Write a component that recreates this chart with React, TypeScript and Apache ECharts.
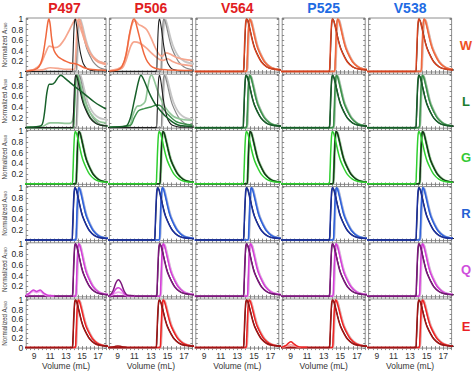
import React, { useEffect, useRef } from 'react';
import * as echarts from 'echarts';

// ---------------- data ----------------
const COLUMNS = ['P497', 'P506', 'V564', 'P525', 'V538'];
const ROWS = ['W', 'L', 'G', 'R', 'Q', 'E'];
const X_TICK_LABELS = [9, 11, 13, 15, 17];
const Y_TICK_LABELS = [0, 0.2, 0.4, 0.6, 0.8, 1];

// onset volume (mL) of the early and late elution groups, rows W..E, columns P497..V538
const EARLY_ONSET = [
  [13.75, 13.65, 13.7, 13.65, 13.65],
  [13.8, 13.65, 13.65, 13.65, 13.65],
  [13.75, 13.6, 13.7, 13.65, 13.65],
  [13.7, 13.4, 13.7, 13.65, 13.65],
  [13.75, 13.65, 13.7, 13.65, 13.65],
  [13.75, 13.6, 13.7, 13.65, 13.65],
];
const LATE_ONSET = [
  [14.2, 14.15, 14.1, 14.3, 14.3],
  [14.2, 14.2, 14.1, 14.15, 14.1],
  [14.2, 14.05, 14.15, 14.1, 14.1],
  [14.2, 14.0, 14.3, 14.15, 14.15],
  [14.2, 14.1, 14.2, 14.1, 14.1],
  [14.15, 14.1, 14.05, 14.05, 14.1],
];

// elution profiles: volume after onset (mL) -> normalized A280
const PROFILE_DX = [-7, 0, 0.1, 0.2, 0.3, 0.4, 0.5, 0.6, 0.8, 1.0, 1.2, 1.4, 1.8, 2.2, 2.8, 3.4, 4.4, 7];
const PEAK_Y = [0.01, 0.01, 0.2, 0.62, 0.92, 1.0, 0.98, 0.94, 0.81, 0.67, 0.54, 0.44, 0.3, 0.19, 0.1, 0.06, 0.04, 0.03];
const FAST_Y = [0.01, 0.01, 0.25, 0.7, 0.95, 1.0, 0.94, 0.84, 0.6, 0.4, 0.26, 0.16, 0.07, 0.04, 0.02, 0.02, 0.02, 0.02];
const BROAD_Y = [0.01, 0.01, 0.2, 0.55, 0.85, 0.98, 1.0, 0.96, 0.85, 0.72, 0.6, 0.5, 0.36, 0.27, 0.2, 0.17, 0.15, 0.14];

// special traces, [volume, normalized A280]
const P497_W_ORANGE = [[8, 0.02], [9, 0.04], [9.6, 0.1], [10, 0.25], [10.4, 0.6], [10.7, 0.93], [10.85, 1.0], [11.0, 0.9], [11.2, 0.62], [11.5, 0.4], [12, 0.29], [12.5, 0.24], [13, 0.2], [13.5, 0.17], [14, 0.16], [14.5, 0.14], [15, 0.1], [15.5, 0.07], [16, 0.05], [17, 0.04], [18, 0.03]];
const P497_W_SALMON = [[8, 0.02], [9, 0.05], [9.8, 0.15], [10.4, 0.35], [10.9, 0.49], [11.2, 0.48], [11.6, 0.46], [12.2, 0.5], [12.8, 0.62], [13.3, 0.76], [13.8, 0.91], [14.2, 1.0], [14.6, 0.92], [15, 0.74], [15.5, 0.52], [16, 0.36], [16.5, 0.27], [17, 0.21], [17.5, 0.18], [18, 0.16]];
const P497_W_PALE = [[8, 0.02], [10, 0.04], [11, 0.08], [12, 0.07], [13, 0.05], [14, 0.05], [14.2, 0.3], [14.35, 0.75], [14.5, 0.95], [14.65, 1.0], [14.9, 0.9], [15.3, 0.65], [15.8, 0.42], [16.4, 0.27], [17, 0.19], [18, 0.14]];
const P506_W_ORANGE = [[8, 0.02], [9, 0.04], [9.5, 0.1], [10, 0.32], [10.4, 0.7], [10.8, 0.97], [11.0, 1.0], [11.3, 0.86], [11.8, 0.55], [12.2, 0.33], [12.6, 0.19], [13.2, 0.09], [14, 0.05], [15, 0.04], [18, 0.03]];
const P506_W_SALMON = [[8, 0.02], [9.5, 0.1], [10, 0.33], [10.5, 0.75], [10.8, 0.93], [11.1, 0.97], [11.5, 0.9], [12, 0.86], [12.5, 0.8], [13, 0.65], [13.5, 0.47], [14, 0.33], [14.4, 0.3], [14.8, 0.36], [15.3, 0.34], [16, 0.28], [17, 0.24], [18, 0.22]];
const P506_W_PALE = [[8, 0.02], [9.5, 0.07], [10, 0.22], [10.6, 0.5], [11, 0.57], [11.6, 0.55], [12.4, 0.46], [13.2, 0.34], [14, 0.24], [14.5, 0.22], [15, 0.25], [15.6, 0.2], [16.5, 0.15], [18, 0.12]];
const P497_L_DARK = [[8, 0.02], [9.5, 0.03], [10, 0.07], [10.3, 0.3], [10.6, 0.68], [10.9, 0.83], [11.2, 0.83], [11.6, 0.87], [12.0, 0.96], [12.35, 1.0], [12.8, 0.95], [13.5, 0.86], [14.5, 0.74], [15.5, 0.62], [16.5, 0.5], [17.3, 0.42], [18, 0.36]];
const P497_L_LIGHT = [[8, 0.02], [10, 0.03], [10.6, 0.08], [11, 0.1], [12, 0.1], [13, 0.09], [13.6, 0.1], [13.9, 0.2], [14.1, 0.6], [14.3, 0.95], [14.45, 1.0], [14.7, 0.9], [15.2, 0.6], [15.8, 0.35], [16.5, 0.2], [17.2, 0.12], [18, 0.1]];
const P506_L_DARK = [[8, 0.02], [10, 0.04], [10.5, 0.18], [11, 0.52], [11.5, 0.88], [11.8, 1.0], [12.1, 0.93], [12.5, 0.78], [13, 0.6], [13.5, 0.46], [14, 0.36], [14.8, 0.22], [15.5, 0.13], [16, 0.08], [16.5, 0.05], [18, 0.03]];
const P506_L_LIGHT = [[8, 0.02], [10.4, 0.05], [10.8, 0.24], [11.3, 0.41], [11.8, 0.43], [12.3, 0.5], [12.6, 0.75], [12.9, 0.97], [13.1, 1.0], [13.4, 0.9], [14, 0.62], [14.8, 0.38], [15.5, 0.25], [16, 0.2], [17, 0.16], [18, 0.15]];
const P506_L_MID = [[8, 0.02], [10.5, 0.05], [11, 0.2], [11.5, 0.33], [12.2, 0.37], [13, 0.4], [13.7, 0.44], [14.2, 0.42], [15, 0.27], [16, 0.13], [17, 0.08], [18, 0.06]];
const P497_Q_PURPLE = [[8, 0.03], [8.4, 0.07], [8.9, 0.13], [9.3, 0.1], [9.75, 0.13], [10.2, 0.07], [10.7, 0.03], [11.5, 0.02]];
const P497_Q_PINK = [[8, 0.03], [8.4, 0.06], [8.9, 0.1], [9.3, 0.08], [9.75, 0.1], [10.2, 0.05], [10.7, 0.02], [11.5, 0.02]];
const P506_Q_PURPLE = [[8, 0.02], [8.4, 0.1], [8.8, 0.27], [9.1, 0.32], [9.4, 0.26], [9.8, 0.1], [10.2, 0.03], [11, 0.02]];
const P506_Q_MAGENTA = [[8, 0.02], [8.4, 0.06], [8.8, 0.15], [9.1, 0.17], [9.4, 0.14], [9.8, 0.06], [10.2, 0.02], [11, 0.02]];
const P506_Q_PINK = [[8, 0.02], [8.5, 0.05], [9.1, 0.09], [9.6, 0.06], [10.2, 0.02], [11, 0.02]];
const P525_E_RED = [[8, 0.02], [8.4, 0.05], [8.8, 0.11], [9.05, 0.13], [9.4, 0.09], [9.8, 0.04], [10.3, 0.02], [11, 0.02]];
const P525_E_LIGHT = [[8, 0.02], [8.5, 0.04], [9.05, 0.07], [9.6, 0.04], [10.2, 0.02], [11, 0.02]];
const P506_E_DARK = [[8, 0.02], [8.6, 0.03], [9.0, 0.045], [9.5, 0.03], [10, 0.02]];

// ---------------- styles ----------------
const FONT = 'Liberation Sans, Arial, Helvetica, sans-serif';
const TITLE_COLORS = ['#e11d1f', '#e11d1f', '#e11d1f', '#1e6be3', '#1e6be3'];
const ROW_LABEL_COLORS = ['#ef5124', '#1b7d2c', '#34c934', '#2560d4', '#cf4fdc', '#ea1f26'];
const ROW_TONES = [
  ['#d8421e', '#f0683e', '#f6a68e'],
  ['#17602a', '#3c904b', '#93c79a'],
  ['#169f20', '#2fcf2f', '#8de28d'],
  ['#1b2f9e', '#2f60d8', '#8faaef'],
  ['#7c167c', '#d23fd6', '#f1a8f1'],
  ['#a31414', '#ee2424', '#f5a3a3'],
];
const NEUTRAL = { black: '#1f1f1f', gray: '#8a8a8a', lightgray: '#c6c6c6' };

const G = { left: 23, top: 18, colStep: 86.4, rowStep: 56.2, w: 83, h: 54 };

type Trace = { pts: number[][]; tone: string };

function profile(ys: number[], onset: number): number[][] {
  return PROFILE_DX.map((dx, i) => [onset + dx, ys[i]]);
}

function panelTraces(r: number, c: number): Trace[] {
  const e = EARLY_ONSET[r][c];
  const l = LATE_ONSET[r][c];
  const key = ROWS[r] + COLUMNS[c];
  if (key === 'WP497') {
    return [
      { pts: profile(BROAD_Y, l + 0.1), tone: 'lightgray' },
      { pts: profile(PEAK_Y, l), tone: 'gray' },
      { pts: P497_W_PALE, tone: 'light' },
      { pts: P497_W_SALMON, tone: 'light' },
      { pts: profile(FAST_Y, e), tone: 'black' },
      { pts: P497_W_ORANGE, tone: 'mid' },
    ];
  }
  if (key === 'WP506') {
    return [
      { pts: profile(BROAD_Y, l + 0.1), tone: 'lightgray' },
      { pts: profile(PEAK_Y, l), tone: 'gray' },
      { pts: P506_W_PALE, tone: 'light' },
      { pts: P506_W_SALMON, tone: 'light' },
      { pts: profile(FAST_Y, e), tone: 'black' },
      { pts: P506_W_ORANGE, tone: 'mid' },
    ];
  }
  if (key === 'LP497') {
    return [
      { pts: profile(BROAD_Y, l + 0.1), tone: 'lightgray' },
      { pts: profile(PEAK_Y, l), tone: 'gray' },
      { pts: P497_L_LIGHT, tone: 'light' },
      { pts: profile(PEAK_Y, e + 0.1), tone: 'mid' },
      { pts: profile(PEAK_Y, e), tone: 'black' },
      { pts: P497_L_DARK, tone: 'dark' },
    ];
  }
  if (key === 'LP506') {
    return [
      { pts: profile(BROAD_Y, l + 0.1), tone: 'lightgray' },
      { pts: profile(PEAK_Y, l), tone: 'gray' },
      { pts: P506_L_LIGHT, tone: 'light' },
      { pts: P506_L_MID, tone: 'mid' },
      { pts: profile(FAST_Y, e), tone: 'black' },
      { pts: P506_L_DARK, tone: 'dark' },
    ];
  }
  const earlyTone = r === 2 ? 'mid' : 'dark';
  const lateTone = r === 2 ? 'dark' : 'mid';
  const list: Trace[] = [
    { pts: profile(PEAK_Y, l + 0.08), tone: 'lightgray' },
    { pts: profile(PEAK_Y, l), tone: 'gray' },
    { pts: profile(PEAK_Y, l + 0.04), tone: 'light' },
    { pts: profile(PEAK_Y, l - 0.02), tone: lateTone },
    { pts: profile(PEAK_Y, r === 2 ? l + 0.02 : e + 0.03), tone: 'black' },
    { pts: profile(PEAK_Y, e), tone: earlyTone },
  ];
  if (key === 'QP497') {
    list.push({ pts: P497_Q_PINK, tone: 'light' }, { pts: P497_Q_PURPLE, tone: 'mid' });
  }
  if (key === 'QP506') {
    list.push({ pts: P506_Q_PINK, tone: 'light' }, { pts: P506_Q_MAGENTA, tone: 'mid' }, { pts: P506_Q_PURPLE, tone: 'dark' });
  }
  if (key === 'EP525') {
    list.push({ pts: P525_E_LIGHT, tone: 'light' }, { pts: P525_E_RED, tone: 'mid' });
  }
  if (key === 'EP506') {
    list.push({ pts: P506_E_DARK, tone: 'dark' });
  }
  return list;
}

function toneStyle(r: number, tone: string) {
  if (tone === 'black') return { color: NEUTRAL.black, width: 1.1 };
  if (tone === 'gray') return { color: NEUTRAL.gray, width: 1.2 };
  if (tone === 'lightgray') return { color: NEUTRAL.lightgray, width: 1.8 };
  const idx = tone === 'dark' ? 0 : tone === 'mid' ? 1 : 2;
  return { color: ROW_TONES[r][idx], width: tone === 'light' ? 1.7 : 1.5 };
}

function isOn(v: number, list: number[]) {
  return list.some((t) => Math.abs(t - v) < 1e-6);
}

function buildOption() {
  const grid: any[] = [];
  const xAxis: any[] = [];
  const yAxis: any[] = [];
  const series: any[] = [];
  const tick = { inside: true, length: 2, lineStyle: { color: '#6f6f6f', width: 0.8 } };
  for (let r = 0; r < ROWS.length; r++) {
    for (let c = 0; c < COLUMNS.length; c++) {
      const k = r * COLUMNS.length + c;
      const bottom = r === ROWS.length - 1;
      const first = c === 0;
      grid.push({
        left: G.left + c * G.colStep,
        top: G.top + r * G.rowStep,
        width: G.w,
        height: G.h,
        show: true,
        borderColor: '#8e8e8e',
        borderWidth: 1,
        backgroundColor: '#fff',
      });
      const xBase = { gridIndex: k, type: 'value', min: 8, max: 18, interval: 0.5, splitLine: { show: false }, axisLine: { show: false }, axisTick: tick };
      xAxis.push({
        ...xBase,
        position: 'bottom',
        axisLabel: {
          show: bottom, margin: 3, fontSize: 8.5, color: '#333', fontFamily: FONT,
          formatter: (v: number) => (isOn(v, X_TICK_LABELS) ? String(Math.round(v)) : ''),
        },
        name: bottom ? 'Volume (mL)' : '',
        nameLocation: 'middle',
        nameGap: 11,
        nameTextStyle: { fontSize: 8.5, color: '#333', fontFamily: FONT },
      });
      xAxis.push({ ...xBase, position: 'top', axisLabel: { show: false } });
      const yBase = { gridIndex: k, type: 'value', min: 0, max: 1.02, interval: 0.1, splitLine: { show: false }, axisLine: { show: false }, axisTick: tick };
      yAxis.push({
        ...yBase,
        position: 'left',
        axisLabel: {
          show: first, margin: 3, fontSize: 8.5, color: '#222', fontFamily: FONT,
          formatter: (v: number) => {
            if (!isOn(v, Y_TICK_LABELS)) return '';
            if (Math.abs(v) < 1e-6 && !bottom) return '';
            return String(Math.round(v * 10) / 10);
          },
        },
        name: first ? 'Normalized A{s|280}' : '',
        nameLocation: 'middle',
        nameGap: 14,
        nameTextStyle: {
          fontSize: 6.3, color: '#444', fontFamily: FONT,
          rich: { s: { fontSize: 4.2, color: '#444', fontFamily: FONT, verticalAlign: 'bottom', padding: [3, 0, 0, 0] } },
        },
      });
      yAxis.push({ ...yBase, position: 'right', axisLabel: { show: false } });
      for (const t of panelTraces(r, c)) {
        const st = toneStyle(r, t.tone);
        series.push({
          type: 'line',
          xAxisIndex: 2 * k,
          yAxisIndex: 2 * k,
          data: t.pts,
          showSymbol: false,
          symbol: 'none',
          smooth: 0.3,
          clip: true,
          silent: true,
          lineStyle: { color: st.color, width: st.width },
        });
      }
    }
  }
  const graphic: any[] = [];
  COLUMNS.forEach((name, c) => {
    graphic.push({
      type: 'text',
      x: G.left + c * G.colStep + G.w / 2,
      y: 0.5,
      style: { text: name, fill: TITLE_COLORS[c], fontSize: 14, lineHeight: 14, fontWeight: 'bold', fontFamily: FONT, align: 'center', verticalAlign: 'top' },
    });
  });
  ROWS.forEach((name, r) => {
    graphic.push({
      type: 'text',
      x: 466,
      y: G.top + r * G.rowStep + G.h / 2,
      style: { text: name, fill: ROW_LABEL_COLORS[r], fontSize: 13, fontWeight: 'bold', fontFamily: FONT, align: 'center', verticalAlign: 'middle' },
    });
  });
  return { animation: false, backgroundColor: '#fff', grid, xAxis, yAxis, series, graphic };
}

export default function App() {
  const ref = useRef<HTMLDivElement>(null);
  useEffect(() => {
    document.body.style.margin = '0';
    const chart = echarts.init(ref.current!, undefined, { renderer: 'svg' });
    chart.setOption(buildOption() as any);
    return () => chart.dispose();
  }, []);
  return <div ref={ref} style={{ width: 474, height: 371 }} />;
}
